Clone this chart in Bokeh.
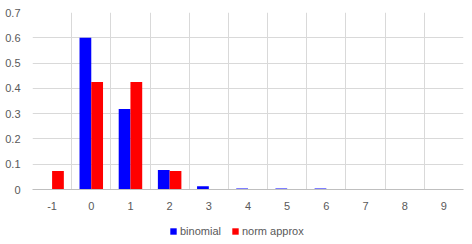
import numpy as np
from bokeh.plotting import figure
from bokeh.layouts import column
from bokeh.models import ColumnDataSource, FixedTicker, Legend, LegendItem
from bokeh.transform import dodge
from bokeh.embed import file_html
from bokeh.resources import INLINE

categories = ["-1", "0", "1", "2", "3", "4", "5", "6", "7", "8", "9"]
binomial = [0.0, 0.600, 0.318, 0.077, 0.013, 0.004, 0.004, 0.004, 0.0, 0.0, 0.0]
norm_approx = [0.073, 0.425, 0.425, 0.073, 0.0, 0.0, 0.0, 0.0, 0.0, 0.0, 0.0]
y_ticks = [0, 0.1, 0.2, 0.3, 0.4, 0.5, 0.6, 0.7]
y_tick_labels = ["0", "0.1", "0.2", "0.3", "0.4", "0.5", "0.6", "0.7"]
series_names = ["binomial", "norm approx"]
colors = ["#0000FF", "#FF0000"]

idx = np.arange(len(categories))
src = ColumnDataSource(dict(x=idx, binomial=binomial, norm=norm_approx))

FONT = "Liberation Sans"
TXT = "#595959"

p = figure(width=472, height=215, output_backend="svg", toolbar_location=None,
           x_range=(-0.5, len(categories) - 0.5), y_range=(0, 0.7),
           min_border_left=32, min_border_right=9, min_border_top=12, min_border_bottom=26)
p.outline_line_color = None
p.background_fill_color = "white"
p.border_fill_color = "white"

p.vbar(x=dodge("x", -0.15), top="binomial", width=0.3, source=src,
       fill_color=colors[0], line_color=None)
p.vbar(x=dodge("x", 0.15), top="norm", width=0.3, source=src,
       fill_color=colors[1], line_color=None)

# axes
p.xaxis.ticker = FixedTicker(ticks=list(idx))
p.xaxis.major_label_overrides = {int(i): c for i, c in zip(idx, categories)}
p.yaxis.ticker = FixedTicker(ticks=y_ticks)
p.yaxis.major_label_overrides = {t: l for t, l in zip(y_ticks, y_tick_labels)}
for ax in (p.xaxis, p.yaxis):
    ax.major_tick_line_color = None
    ax.minor_tick_line_color = None
    ax.major_label_text_font = FONT
    ax.major_label_text_font_size = "11px"
    ax.major_label_text_color = TXT
p.yaxis.axis_line_color = None
p.xaxis.axis_line_color = "#BFBFBF"
p.xaxis.major_label_standoff = 6
p.yaxis.major_label_standoff = 6

# grid lines at category boundaries
p.xgrid.ticker = FixedTicker(ticks=[i - 0.5 for i in range(len(categories) + 1)])
p.xgrid.grid_line_color = "#D9D9D9"
p.ygrid.ticker = FixedTicker(ticks=y_ticks)
p.ygrid.grid_line_color = "#D9D9D9"

# legend strip below the chart (swatch renderers have zero height, off-range)
lg = figure(width=472, height=29, output_backend="svg", toolbar_location=None,
            x_range=(0, 1), y_range=(0, 1), min_border=0)
lg.axis.visible = False
lg.grid.visible = False
lg.outline_line_color = None
offsrc = ColumnDataSource(dict(x=[-5], top=[0]))
rs = [lg.vbar(x="x", top="top", width=0.1, source=offsrc,
              fill_color=c, line_color=None) for c in colors]
legend = Legend(items=[LegendItem(label=n, renderers=[r]) for n, r in zip(series_names, rs)],
                orientation="horizontal", location=(137, 7),
                label_text_font=FONT, label_text_font_size="11px", label_text_color=TXT,
                glyph_width=8, glyph_height=8, label_standoff=3, spacing=10,
                padding=0, margin=0, border_line_color=None, background_fill_alpha=0)
lg.add_layout(legend, "center")

open("out.html", "w").write(file_html(column(p, lg, spacing=0), INLINE))
